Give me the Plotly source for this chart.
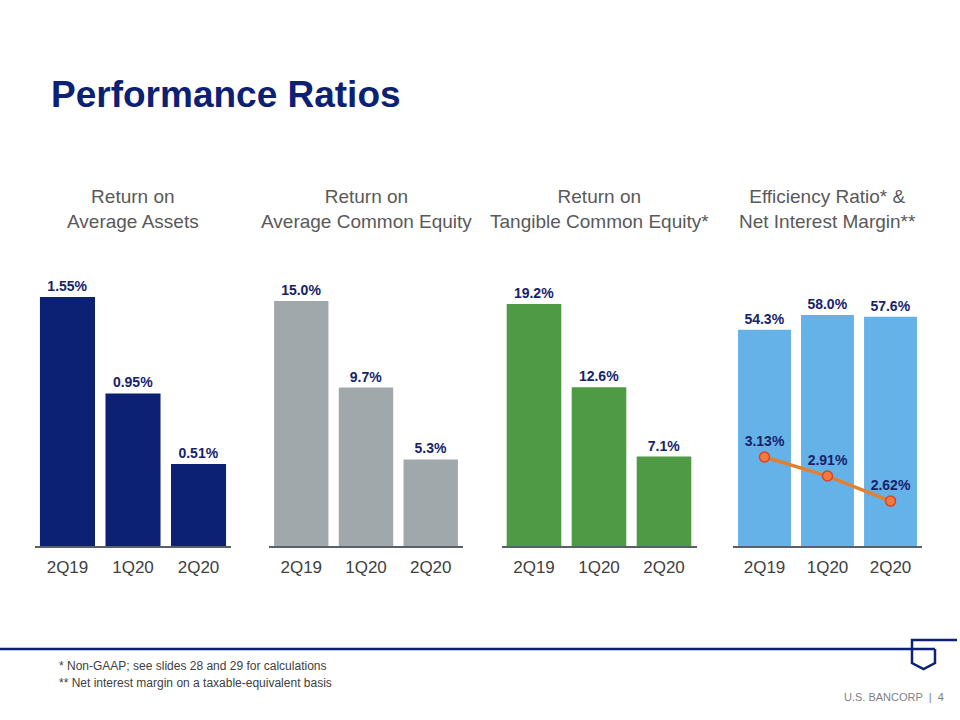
import plotly.graph_objects as go

quarters = ["2Q19", "1Q20", "2Q20"]
roa = [1.55, 0.95, 0.51]
roe = [15.0, 9.7, 5.3]
rotce = [19.2, 12.6, 7.1]
efficiency = [54.3, 58.0, 57.6]
nim = [3.13, 2.91, 2.62]

roa_labels = ["1.55%", "0.95%", "0.51%"]
roe_labels = ["15.0%", "9.7%", "5.3%"]
rotce_labels = ["19.2%", "12.6%", "7.1%"]
eff_labels = ["54.3%", "58.0%", "57.6%"]
nim_labels = ["3.13%", "2.91%", "2.62%"]

titles = ["Return on<br>Average Assets",
          "Return on<br>Average Common Equity",
          "Return on<br>Tangible Common Equity*",
          "Efficiency Ratio* &<br>Net Interest Margin**"]

W, H = 960, 720
LABEL = "#16236B"
GRAY_TXT = "#595959"
FONT = "Liberation Sans, Arial, sans-serif"
NARROW = "Liberation Sans Narrow, Arial Narrow, Liberation Sans, sans-serif"

def px(x):
    return x / W

def py(y):
    return 1 - y / H

base_y, top_y = 546, 280
ydom = [py(base_y), py(top_y)]
xdoms = [[px(34.7), px(231.3)], [px(268.9), px(463.1)],
         [px(501.5), px(696.5)], [px(733.0), px(922.0)]]
yranges = [[0, 1.656], [0, 16.29], [0, 21.11], [0, 66.8]]

series = [(roa, roa_labels, "#0C2074"), (roe, roe_labels, "#A1A8AB"),
          (rotce, rotce_labels, "#4E9A45"), (efficiency, eff_labels, "#65B2E8")]

fig = go.Figure()
for i, (vals, labs, col) in enumerate(series):
    n = "" if i == 0 else str(i + 1)
    fig.add_trace(go.Bar(
        x=quarters, y=vals, text=["<b>%s</b>" % s for s in labs], textposition="outside",
        textfont=dict(family=FONT, size=14, color=LABEL),
        marker=dict(color=col, line=dict(width=0)),
        cliponaxis=False, xaxis="x" + n, yaxis="y" + n, showlegend=False,
        hoverinfo="skip"))

fig.add_trace(go.Scatter(
    x=quarters, y=nim, text=["<b>%s</b>" % s for s in nim_labels], mode="lines+markers+text",
    textposition="top center",
    textfont=dict(family=FONT, size=14, color=LABEL),
    line=dict(color="#E3802F", width=3.5),
    marker=dict(size=10, color="#F47A3B", line=dict(color="#D8432C", width=1.5)),
    xaxis="x4", yaxis="y5", showlegend=False, cliponaxis=False, hoverinfo="skip"))

layout = dict(
    width=W, height=H, margin=dict(l=0, r=0, t=0, b=0),
    paper_bgcolor="white", plot_bgcolor="white",
    bargap=0.16, font=dict(family=FONT),
)
for i in range(4):
    n = "" if i == 0 else str(i + 1)
    layout["xaxis" + n] = dict(
        domain=xdoms[i], anchor="y" + n, type="category", range=[-0.5, 2.5],
        showline=True, linecolor="#5A5F68", linewidth=2, showgrid=False,
        ticks="", tickfont=dict(family=FONT, size=17, color="#404040"),
        ticklabelstandoff=5, fixedrange=True)
    layout["yaxis" + n] = dict(
        domain=ydom, anchor="x" + n, range=yranges[i], visible=False,
        showgrid=False, zeroline=False, fixedrange=True)
layout["yaxis5"] = dict(overlaying="y4", anchor="x4", range=[2.1, 5.18],
                        visible=False, showgrid=False, zeroline=False, fixedrange=True)
fig.update_layout(**layout)

annotations = [dict(text="<b>Performance Ratios</b>", x=px(49), y=py(95),
                    xref="paper", yref="paper", xanchor="left", yanchor="middle",
                    showarrow=False, font=dict(family=FONT, size=37, color="#0C2074"))]
for i, t in enumerate(titles):
    cx = (xdoms[i][0] + xdoms[i][1]) / 2
    annotations.append(dict(text=t, x=cx, y=py(209), xref="paper", yref="paper",
                            xanchor="center", yanchor="middle", showarrow=False,
                            font=dict(family=FONT, size=19, color=GRAY_TXT)))
annotations.append(dict(text="* Non-GAAP; see slides 28 and 29 for calculations",
                        x=px(57), y=py(666), xref="paper", yref="paper",
                        xanchor="left", yanchor="middle", showarrow=False,
                        font=dict(family=NARROW, size=12, color="#404040")))
annotations.append(dict(text="** Net interest margin on a taxable-equivalent basis",
                        x=px(57), y=py(683), xref="paper", yref="paper",
                        xanchor="left", yanchor="middle", showarrow=False,
                        font=dict(family=NARROW, size=12, color="#404040")))
annotations.append(dict(text="U.S. BANCORP  |  4", x=px(946), y=py(697),
                        xref="paper", yref="paper", xanchor="right", yanchor="middle",
                        showarrow=False,
                        font=dict(family=NARROW, size=11, color="#7F7F7F")))
fig.update_layout(annotations=annotations)

shapes = [
    dict(type="line", xref="paper", yref="paper", x0=0, x1=px(935), y0=py(649), y1=py(649),
         line=dict(color="#0C2074", width=2.5)),
    dict(type="path", xref="paper", yref="paper",
         path=f"M {px(957)},{py(640)} L {px(912)},{py(640)} L {px(912)},{py(663)} "
              f"L {px(923.5)},{py(669)} L {px(935)},{py(663)} L {px(935)},{py(649)}",
         line=dict(color="#0C2074", width=2.5)),
]
fig.update_layout(shapes=shapes)

fig.write_html("out.html", config={"displayModeBar": False, "staticPlot": True},
               post_script="document.body.style.margin='0px';")
